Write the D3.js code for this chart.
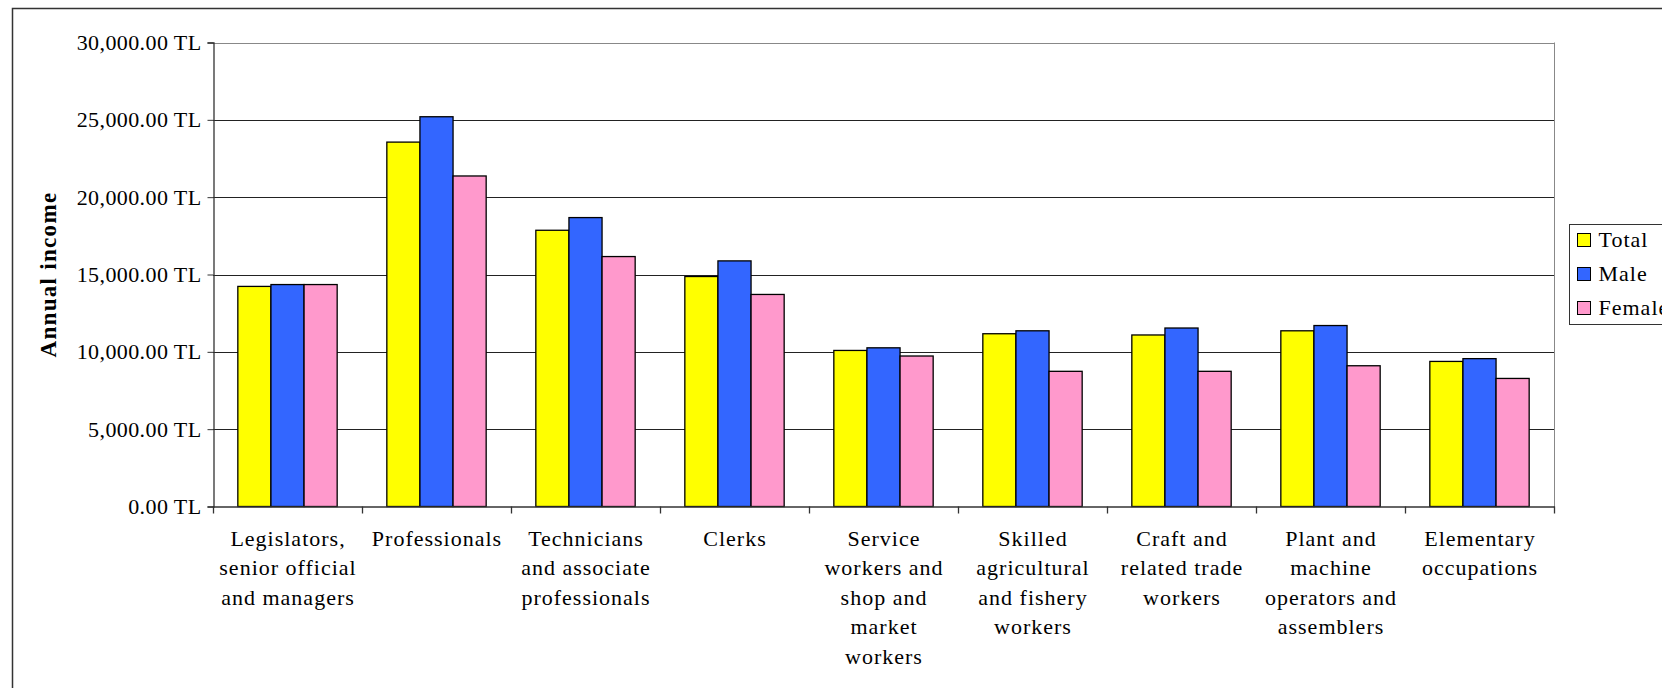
<!DOCTYPE html>
<html>
<head>
<meta charset="utf-8">
<script src="https://cdn.jsdelivr.net/npm/d3@7"></script>
<style>
  html, body { margin: 0; padding: 0; background: #fff; overflow: hidden; }
  svg { display: block; }
  text { font-family: "Liberation Serif", "Times New Roman", serif; fill: #000; }
</style>
</head>
<body>
<svg id="chart" width="1662" height="688"></svg>
<script>
// ---- data ----
const categories = [
  "Legislators, senior official and managers",
  "Professionals",
  "Technicians and associate professionals",
  "Clerks",
  "Service workers and shop and market workers",
  "Skilled agricultural and fishery workers",
  "Craft and related trade workers",
  "Plant and machine operators and assemblers",
  "Elementary occupations"
];
const categoryLines = [
  ["Legislators,", "senior official", "and managers"],
  ["Professionals"],
  ["Technicians", "and associate", "professionals"],
  ["Clerks"],
  ["Service", "workers and", "shop and", "market", "workers"],
  ["Skilled", "agricultural", "and fishery", "workers"],
  ["Craft and", "related trade", "workers"],
  ["Plant and", "machine", "operators and", "assemblers"],
  ["Elementary", "occupations"]
];
const seriesNames = ["Total", "Male", "Female"];
const totalValues  = [14230, 23560, 17860, 14870, 10090, 11170, 11090, 11360, 9380];
const maleValues   = [14350, 25200, 18680, 15880, 10260, 11360, 11540, 11700, 9560];
const femaleValues = [14350, 21370, 16160, 13710, 9730, 8740, 8740, 9100, 8280];
const yTickValues = [0, 5000, 10000, 15000, 20000, 25000, 30000];
const yTitle = "Annual income";
const seriesColors = ["#FFFF00", "#3366FF", "#FF99CC"];

// ---- layout ----
const svg = d3.select("#chart");
const plot = { left: 213, right: 1554, top: 42.5, bottom: 506.5 };

// outer frame
svg.append("rect")
  .attr("x", 12.5).attr("y", 8.5)
  .attr("width", 1700).attr("height", 720)
  .attr("fill", "none").attr("stroke", "#333").attr("stroke-width", 1.5);

const x0 = d3.scaleBand().domain(categories).range([plot.left, plot.right]).paddingInner(0).paddingOuter(0);
const bw = x0.bandwidth();
const barW = bw / 4.5;
const x1 = d3.scaleBand().domain(seriesNames)
  .range([bw / 2 - 1.5 * barW, bw / 2 + 1.5 * barW]).padding(0);
const y = d3.scaleLinear().domain([0, 30000]).range([plot.bottom, plot.top]);

// gridlines
svg.append("g").selectAll("line").data(yTickValues.filter(v => v > 0)).join("line")
  .attr("x1", plot.left).attr("x2", plot.right)
  .attr("y1", d => Math.round(y(d)) + 0.5).attr("y2", d => Math.round(y(d)) + 0.5)
  .attr("stroke", d => d === 30000 ? "#888" : "#222").attr("stroke-width", 1);

// plot right border
svg.append("line")
  .attr("x1", plot.right + 0.5).attr("x2", plot.right + 0.5)
  .attr("y1", y(30000)).attr("y2", plot.bottom)
  .attr("stroke", "#888").attr("stroke-width", 1);

// bars
const seriesData = [totalValues, maleValues, femaleValues];
const groups = svg.append("g").selectAll("g").data(categories).join("g")
  .attr("transform", d => `translate(${x0(d)},0)`);
groups.selectAll("rect")
  .data((d, i) => seriesNames.map((s, k) => ({ s, v: seriesData[k][i], c: seriesColors[k] })))
  .join("rect")
  .attr("x", d => x1(d.s))
  .attr("y", d => y(d.v))
  .attr("width", x1.bandwidth())
  .attr("height", d => plot.bottom - y(d.v))
  .attr("fill", d => d.c)
  .attr("stroke", "#000").attr("stroke-width", 1.3);

// y axis
const yAxis = d3.axisLeft(y).tickValues(yTickValues).tickSize(6).tickPadding(6)
  .tickFormat(d => d3.format(",.2f")(d) + " TL");
const gy = svg.append("g").attr("transform", `translate(${plot.left + 0.5},0)`).call(yAxis);
gy.select(".domain").attr("stroke", "#333").attr("stroke-width", 1.3);
gy.selectAll(".tick line").attr("stroke", "#333");
gy.selectAll(".tick text").style("font-size", "22px").attr("fill", "#000")
  .style("letter-spacing", "0.4px")
  .style("font-family", "'Liberation Serif', serif");

// x axis (ticks at band boundaries)
svg.append("line")
  .attr("x1", plot.left).attr("x2", plot.right + 1)
  .attr("y1", plot.bottom + 0.5).attr("y2", plot.bottom + 0.5)
  .attr("stroke", "#333").attr("stroke-width", 1.3);
const boundaries = categories.map(c => x0(c)).concat([plot.right]);
svg.append("g").selectAll("line").data(boundaries).join("line")
  .attr("x1", d => Math.round(d) + 0.5).attr("x2", d => Math.round(d) + 0.5)
  .attr("y1", plot.bottom).attr("y2", plot.bottom + 7)
  .attr("stroke", "#333").attr("stroke-width", 1.3);

// category labels
const lineH = 29.4;
const labels = svg.append("g").selectAll("text").data(categories).join("text")
  .attr("text-anchor", "middle")
  .style("font-size", "22px")
  .style("letter-spacing", "1px")
  .attr("transform", d => `translate(${x0(d) + bw / 2 + 0.5},${plot.bottom + 39.5})`);
labels.selectAll("tspan").data((d, i) => categoryLines[i]).join("tspan")
  .attr("x", 0).attr("dy", (d, i) => i === 0 ? 0 : lineH).text(d => d);

// y title
svg.append("text")
  .attr("transform", `translate(56,${(plot.top + plot.bottom) / 2}) rotate(-90)`)
  .attr("text-anchor", "middle")
  .style("font-size", "23px").style("font-weight", "bold")
  .style("letter-spacing", "1.3px")
  .text(yTitle);

// legend
const lg = svg.append("g").attr("transform", "translate(1569.5,224.5)");
lg.append("rect").attr("width", 200).attr("height", 100)
  .attr("fill", "#fff").attr("stroke", "#333").attr("stroke-width", 1);
const li = lg.selectAll("g").data(seriesNames).join("g")
  .attr("transform", (d, i) => `translate(8,${9 + i * 34})`);
li.append("rect").attr("width", 13).attr("height", 13)
  .attr("fill", (d, i) => seriesColors[i]).attr("stroke", "#000").attr("stroke-width", 1);
li.append("text").attr("x", 21).attr("y", 13).style("font-size", "22px")
  .style("letter-spacing", "1px").text(d => d);
</script>
</body>
</html>
